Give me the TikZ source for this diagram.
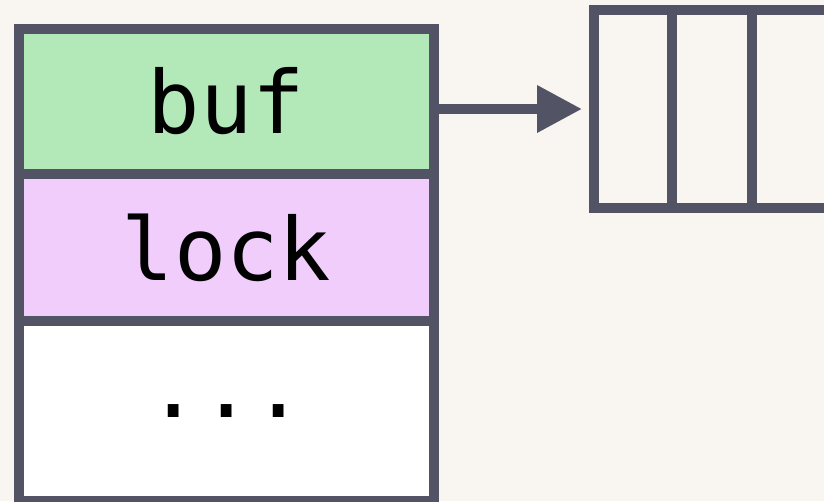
\documentclass[tikz,border=0pt]{standalone}
\usepackage{fontspec}
\setmonofont{DejaVu Sans Mono}
\usetikzlibrary{positioning,arrows.meta}

\definecolor{bgcream}{RGB}{249,246,241}
\definecolor{edgegray}{RGB}{83,83,102}
\definecolor{bufgreen}{RGB}{179,232,184}
\definecolor{lockpink}{RGB}{240,205,250}

\tikzset{
	cell/.style={draw=edgegray, line width=10pt, rectangle, inner sep=0pt, outer sep=0pt,
		minimum width=415pt, font=\ttfamily\fontsize{87}{100}\selectfont},
	slot/.style={draw=edgegray, line width=10pt, rectangle, inner sep=0pt, outer sep=0pt,
		minimum height=198pt, fill=bgcream}
}

\begin{document}
\begin{tikzpicture}[x=1pt,y=-1pt]
	\useasboundingbox (0,0) rectangle (824,501);
	\fill[bgcream] (0,0) rectangle (824,501);
	\clip (0,0) rectangle (824,501);

	% the struct
	\node[cell, fill=bufgreen, minimum height=145pt, anchor=north west] (buf) at (19,29) {buf};
	\node[cell, fill=lockpink, minimum height=147pt, below=0pt of buf] (lock) {lock};
	\node[cell, fill=white, minimum height=180pt, below=0pt of lock] (rest) {...};

	% the buffer it points to
	\node[slot, minimum width=78pt, anchor=north west] (slotA) at (594,10) {};
	\node[slot, minimum width=80pt, right=0pt of slotA] (slotB) {};
	\node[slot, minimum width=80pt, right=0pt of slotB] (slotC) {};

	\draw[edgegray, line width=10pt, -{Triangle[length=45pt,width=45pt]}, shorten >=12pt]
		(buf.east |- slotA.west) -- (slotA.west);
\end{tikzpicture}
\end{document}
